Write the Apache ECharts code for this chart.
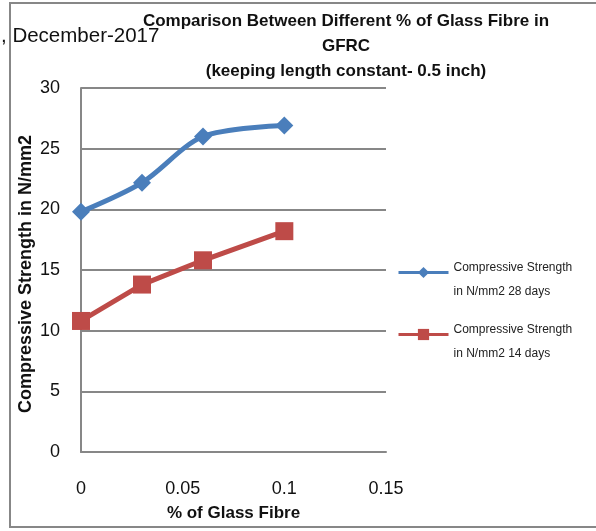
<!DOCTYPE html>
<html>
<head>
<meta charset="utf-8">
<script src="https://cdn.jsdelivr.net/npm/echarts@6/dist/echarts.min.js"></script>
<style>html,body{margin:0;padding:0;background:#fff}#c{width:596px;height:531px}</style>
</head>
<body>
<div id="c"></div>
<script>
const glassFibre = [0, 0.03, 0.06, 0.1];
const strength28 = [19.8, 22.2, 26.0, 26.9];
const strength14 = [10.8, 13.8, 15.8, 18.2];
const seriesNames = ['Compressive Strength in N/mm2 28 days', 'Compressive Strength in N/mm2 14 days'];
const titleText = 'Comparison Between Different % of Glass Fibre in\nGFRC\n(keeping length constant- 0.5 inch)';

const narrow = '"Liberation Sans Narrow", "Liberation Sans", Arial, sans-serif';
const sans = '"Liberation Sans", Arial, sans-serif';
const gray = '#878787';
const blue = '#4a7ebb';
const red = '#be4b48';

const chart = echarts.init(document.getElementById('c'));
function legendCfg(name, top) {
  return {
    data: [name], left: 397, top: top, orient: 'vertical',
    itemWidth: 50, itemHeight: 14, itemGap: 0, padding: 0,
    lineStyle: { width: 3 },
    formatter: n => {
      const parts = n.split(' in N/mm2');
      return '{g| }\n{t|' + parts[0] + '}\n{t|in N/mm2' + parts[1] + '}';
    },
    textStyle: {
      fontFamily: narrow, fontSize: 12, color: '#222',
      rich: {
        g: { fontSize: 12, lineHeight: 15, height: 15 },
        t: { fontFamily: narrow, fontSize: 12, color: '#222', lineHeight: 24 }
      }
    }
  };
}
chart.setOption({
  animation: false,
  title: {
    text: titleText, left: 341, top: 4, textAlign: 'center',
    textStyle: { fontFamily: narrow, fontWeight: 'bold', fontSize: 17, lineHeight: 25, color: '#111' }
  },
  legend: [legendCfg(seriesNames[0], 241), legendCfg(seriesNames[1], 303)],
  grid: { left: 81, right: 210, top: 88, bottom: 79 },
  xAxis: {
    type: 'value', min: 0, max: 0.15, interval: 0.05,
    name: '% of Glass Fibre', nameLocation: 'middle', nameGap: 53,
    nameTextStyle: { fontFamily: narrow, fontWeight: 'bold', fontSize: 17, color: '#111' },
    axisLine: { show: true, lineStyle: { color: gray, width: 2 } },
    axisTick: { show: false },
    axisLabel: { margin: 28, fontFamily: sans, fontSize: 18, color: '#111' },
    splitLine: { show: false }
  },
  yAxis: {
    type: 'value', min: 0, max: 30, interval: 5,
    name: 'Compressive Strength in N/mm2', nameLocation: 'middle', nameGap: 46,
    nameMoveOverlap: false,
    nameTextStyle: { fontFamily: narrow, fontWeight: 'bold', fontSize: 18, color: '#111', padding: [0, 8, 0, 0] },
    axisLine: { show: true, lineStyle: { color: gray, width: 2 } },
    axisTick: { show: false },
    axisLabel: { margin: 21, fontFamily: sans, fontSize: 18, color: '#111' },
    splitLine: { show: true, lineStyle: { color: gray, width: 2 } }
  },
  series: [
    {
      name: seriesNames[0], type: 'line', smooth: 0.3,
      data: glassFibre.map((x, i) => [x, strength28[i]]),
      symbol: 'diamond', symbolSize: 18,
      lineStyle: { color: blue, width: 5 }, itemStyle: { color: blue }
    },
    {
      name: seriesNames[1], type: 'line',
      data: glassFibre.map((x, i) => [x, strength14[i]]),
      symbol: 'rect', symbolSize: 18,
      lineStyle: { color: red, width: 5 }, itemStyle: { color: red }
    }
  ],
  graphic: [
    { type: 'rect', shape: { x: 10, y: 3, width: 600, height: 524 }, style: { fill: null, stroke: gray, lineWidth: 2 }, silent: true },
    { type: 'text', left: 1, top: 26, style: { text: ', December-2017', fontFamily: sans, fontSize: 20.5, fill: '#111' } }
  ]
});
</script>
</body>
</html>
